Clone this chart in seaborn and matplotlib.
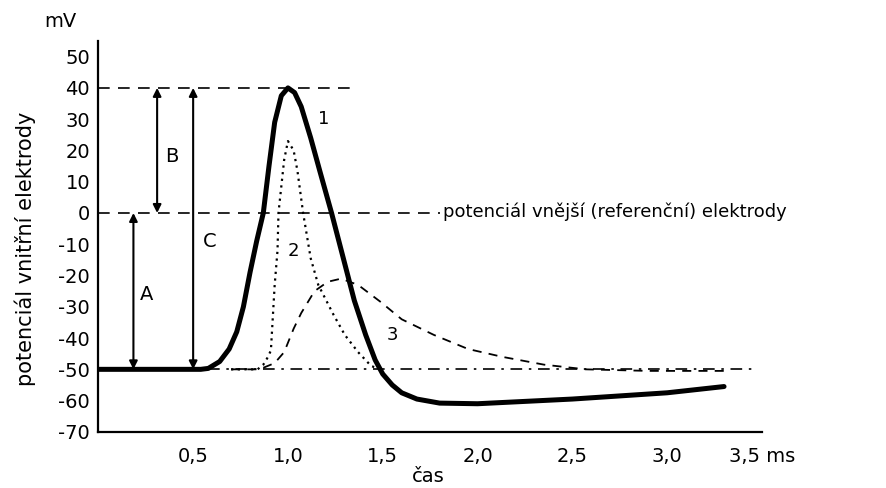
import matplotlib
matplotlib.use("Agg")
import matplotlib.pyplot as plt
import seaborn as sns
import pandas as pd

# ---- data ----
t1 = [0, 0.54, 0.58, 0.64, 0.69, 0.73, 0.765, 0.80, 0.835, 0.87, 0.90, 0.93, 0.965, 1.0,
      1.035, 1.07, 1.12, 1.17, 1.23, 1.29, 1.35, 1.41, 1.46, 1.50, 1.55, 1.60, 1.68,
      1.80, 2.0, 2.5, 3.0, 3.3]
v1 = [-50, -50, -49.7, -47.5, -43.5, -38, -30, -19, -9, 0, 15, 29, 37.5, 40,
      38.5, 34, 24, 13, 0, -14, -28, -39, -47, -51.5, -55, -57.5, -59.5,
      -60.8, -61, -59.5, -57.5, -55.5]

t2 = [0.70, 0.84, 0.87, 0.89, 0.91, 0.93, 0.945, 0.95, 0.98, 1.0, 1.03, 1.05, 1.08,
      1.12, 1.16, 1.24, 1.30, 1.37, 1.44, 1.50]
v2 = [-50, -50, -48.5, -46.5, -44, -23, -12, 0, 17, 23, 20, 13.5, 0,
      -14.5, -23, -32.5, -39, -44.5, -49, -50]

t3 = [0.70, 0.85, 0.93, 0.98, 1.03, 1.07, 1.14, 1.21, 1.28, 1.37, 1.49, 1.60, 1.77,
      1.95, 2.13, 2.35, 2.57, 2.9, 3.3]
v3 = [-50, -50, -48, -44.5, -37, -32, -25, -22, -21, -23, -28.5, -34, -39,
      -43.5, -46, -48.5, -50, -50.5, -50.5]

peak_level = 40
zero_level = 0
rest_level = -50

x_ticks = [0.5, 1.0, 1.5, 2.0, 2.5, 3.0, 3.5]
x_tick_labels = ["0,5", "1,0", "1,5", "2,0", "2,5", "3,0", "3,5 ms"]
y_ticks = [50, 40, 30, 20, 10, 0, -10, -20, -30, -40, -50, -60, -70]
y_tick_labels = ["50", "40", "30", "20", "10", "0", "-10", "-20", "-30", "-40", "-50", "-60", "-70"]

# ---- figure ----
sns.set_theme(style="white")
plt.rcParams["font.family"] = ["DejaVu Sans"]
plt.rcParams["text.color"] = "black"
plt.rcParams["axes.labelcolor"] = "black"
plt.rcParams["xtick.color"] = "black"
plt.rcParams["ytick.color"] = "black"

fig = plt.figure(figsize=(8.86, 4.88), dpi=100)
ax = fig.add_axes([0.111, 0.115, 0.749, 0.801])

df1 = pd.DataFrame({"t": t1, "v": v1})
df2 = pd.DataFrame({"t": t2, "v": v2})
df3 = pd.DataFrame({"t": t3, "v": v3})

# reference lines
ax.plot([0, 1.36], [peak_level, peak_level], color="black", lw=1.2, dashes=(7, 5))
ax.plot([0, 1.80], [zero_level, zero_level], color="black", lw=1.2, dashes=(7, 5))
ax.plot([0, 3.48], [rest_level, rest_level], color="black", lw=1.2, dashes=(7, 4, 1.5, 4))

sns.lineplot(data=df3, x="t", y="v", ax=ax, color="black", lw=1.3,
             estimator=None, sort=False, linestyle=(0, (5, 4)))
sns.lineplot(data=df2, x="t", y="v", ax=ax, color="black", lw=1.6,
             estimator=None, sort=False, linestyle=(0, (1, 2)))
sns.lineplot(data=df1, x="t", y="v", ax=ax, color="black", lw=3.6,
             estimator=None, sort=False)

# arrows
arr = dict(arrowstyle="<|-|>", color="black", lw=1.5, mutation_scale=12, shrinkA=0, shrinkB=0)
ax.annotate("", xy=(0.185, zero_level), xytext=(0.185, rest_level), arrowprops=arr)
ax.annotate("", xy=(0.31, peak_level), xytext=(0.31, zero_level), arrowprops=arr)
ax.annotate("", xy=(0.50, peak_level), xytext=(0.50, rest_level), arrowprops=arr)

fs = 14
ax.text(0.22, -26, "A", fontsize=fs, ha="left", va="center")
ax.text(0.35, 18, "B", fontsize=fs, ha="left", va="center")
ax.text(0.55, -9, "C", fontsize=fs, ha="left", va="center")
ax.text(1.19, 30, "1", fontsize=fs - 1, ha="center", va="center")
ax.text(1.03, -12, "2", fontsize=fs - 1, ha="center", va="center")
ax.text(1.55, -39, "3", fontsize=fs - 1, ha="center", va="center")
ax.text(1.82, 0.5, "potenciál vnější (referenční) elektrody", fontsize=13,
        ha="left", va="center")

ax.set_xlim(0, 3.5)
ax.set_ylim(-70, 55)
ax.set_xticks(x_ticks)
ax.set_xticklabels(x_tick_labels, fontsize=fs)
ax.set_yticks(y_ticks)
ax.set_yticklabels(y_tick_labels, fontsize=fs)
ax.tick_params(direction="in", length=5, width=1.5, color="black")
ax.tick_params(axis="x", pad=11)
ax.tick_params(axis="y", pad=6)
for s in ["top", "right"]:
    ax.spines[s].set_visible(False)
for s in ["left", "bottom"]:
    ax.spines[s].set_color("black")
    ax.spines[s].set_linewidth(1.6)

ax.set_xlabel("čas", fontsize=fs)
ax.xaxis.set_label_coords(0.497, -0.113)
ax.xaxis.label.set_va("center")
ax.set_ylabel("potenciál vnitřní elektrody", fontsize=15)
ax.yaxis.set_label_coords(-0.11, 0.468)
ax.yaxis.label.set_va("center")
fig.text(0.05, 0.955, "mV", fontsize=fs, ha="left", va="center")

fig.savefig("out.png", dpi=100)
